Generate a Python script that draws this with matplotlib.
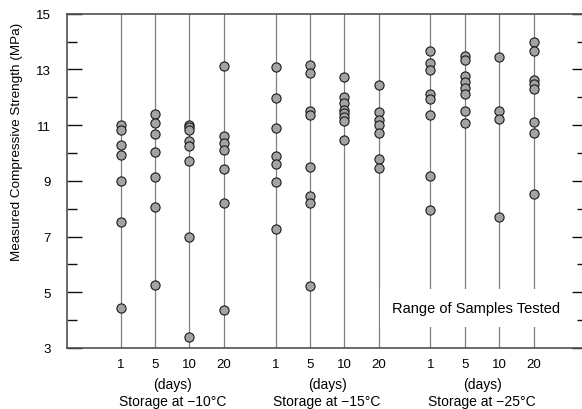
import matplotlib
matplotlib.use("Agg")
import matplotlib.pyplot as plt
from matplotlib.transforms import blended_transform_factory

plt.rcParams['font.family'] = ['Liberation Sans', 'DejaVu Sans']

durations = ["1", "5", "10", "20"]
temperatures = ["\u221210\u00b0C", "\u221215\u00b0C", "\u221225\u00b0C"]

# Measured compressive strength (MPa) per temperature, per storage duration
t10_d1 = [11.02, 10.83, 10.30, 9.92, 9.01, 7.53, 4.45]
t10_d5 = [11.40, 11.09, 10.69, 10.03, 9.15, 8.06, 5.26]
t10_d10 = [11.02, 10.94, 10.84, 10.44, 10.25, 9.72, 7.00, 3.40]
t10_d20 = [13.13, 10.62, 10.36, 10.11, 9.44, 8.22, 4.36]

t15_d1 = [13.10, 11.99, 10.89, 9.88, 9.59, 8.95, 7.26]
t15_d5 = [13.17, 12.88, 11.50, 11.35, 9.49, 8.46, 8.19, 5.22]
t15_d10 = [12.74, 12.02, 11.78, 11.56, 11.44, 11.28, 11.15, 10.48]
t15_d20 = [12.45, 11.47, 11.18, 10.99, 10.72, 9.77, 9.45]

t25_d1 = [13.66, 13.23, 12.99, 12.13, 11.94, 11.36, 9.17, 7.95]
t25_d5 = [13.49, 13.35, 12.77, 12.54, 12.32, 12.12, 11.50, 11.08]
t25_d10 = [13.45, 11.51, 11.23, 7.70]
t25_d20 = [13.97, 13.66, 12.62, 12.48, 12.28, 11.12, 10.70, 8.54]

groups = [
    [t10_d1, t10_d5, t10_d10, t10_d20],
    [t15_d1, t15_d5, t15_d10, t15_d20],
    [t25_d1, t25_d5, t25_d10, t25_d20],
]

fig = plt.figure(figsize=(5.82, 4.10), dpi=100)
ax = fig.add_axes([67.3 / 582, 61 / 410, 519.7 / 582, 334.3 / 410])

group_start = [1.0, 5.5, 10.0]
tick_pos, tick_lab = [], []
for gi, grp in enumerate(groups):
    for di, vals in enumerate(grp):
        xp = group_start[gi] + di
        tick_pos.append(xp)
        tick_lab.append(durations[di])
        ax.axvline(xp, color='#808080', lw=0.9, zorder=1)
        ax.plot([xp] * len(vals), vals, 'o', ms=6.6, mfc='#a3a3a3',
                mec='#1a1a1a', mew=0.8, zorder=4, clip_on=False)

ax.set_xlim(-0.55, 14.55)
ax.set_ylim(3, 15)
ax.set_xticks(tick_pos)
ax.set_xticklabels(tick_lab, fontsize=9.5)
ax.tick_params(axis='x', length=0, pad=7)
ax.set_yticks([3, 5, 7, 9, 11, 13, 15])
ax.set_yticks([4, 6, 8, 10, 12, 14], minor=True)
ax.tick_params(axis='y', which='major', direction='in', length=10.8, width=1.0,
               right=True, labelsize=9.5, pad=12, color='#111111')
ax.tick_params(axis='y', which='minor', direction='in', length=7.2, width=1.0,
               right=True, color='#111111')
for s in ax.spines.values():
    s.set_color('#505050')
    s.set_linewidth(1.2)

trans = blended_transform_factory(ax.transData, fig.transFigure)
for gi, temp in enumerate(temperatures):
    xc = group_start[gi] + 1.5
    ax.text(xc, 1 - 385.5 / 410, "(days)", transform=trans, ha='center',
            va='center', fontsize=10)
    ax.text(xc, 1 - 402 / 410, "Storage at " + temp, transform=trans,
            ha='center', va='center', fontsize=10)

ax.text(11.32, 4.43, "Range of Samples Tested", ha='center', va='center',
        fontsize=10.5, zorder=3,
        bbox=dict(boxstyle='square,pad=0.8', fc='white', ec='none'))

fig.text(17.5 / 582, 1 - 141.7 / 410, "Measured Compressive Strength (MPa)",
         rotation=90, ha='center', va='center', fontsize=9.7)

fig.savefig("out.png", dpi=100)
